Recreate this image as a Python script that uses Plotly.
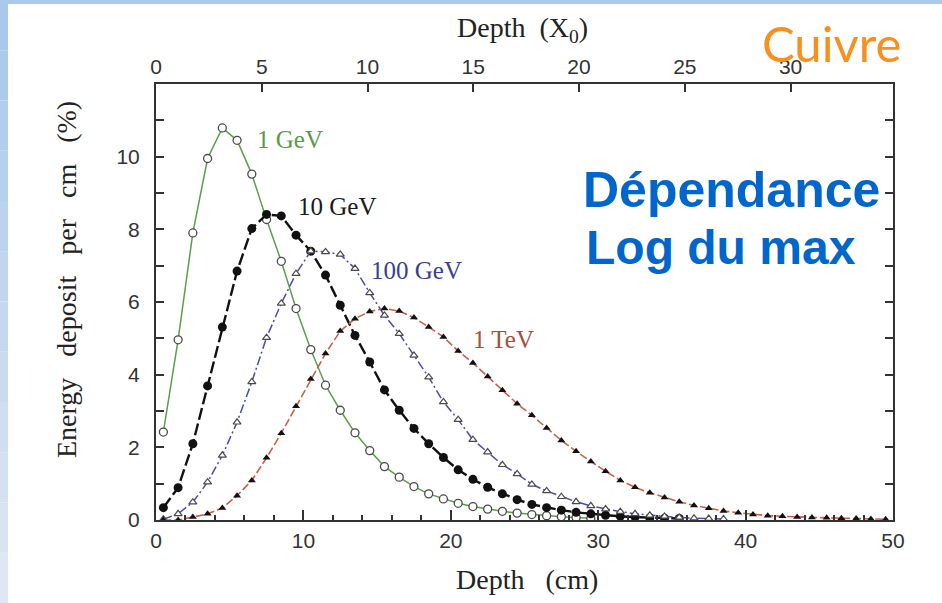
import plotly.graph_objects as go

# ---------------- data ----------------
DEPTH_CM = [0.5, 1.5, 2.5, 3.5, 4.5, 5.5, 6.5, 7.5, 8.5, 9.5,
            10.5, 11.5, 12.5, 13.5, 14.5, 15.5, 16.5, 17.5, 18.5, 19.5,
            20.5, 21.5, 22.5, 23.5, 24.5, 25.5, 26.5, 27.5, 28.5, 29.5,
            30.5, 31.5, 32.5, 33.5, 34.5, 35.5, 36.5, 37.5, 38.5, 39.5,
            40.5, 41.5, 42.5, 43.5, 44.5, 45.5, 46.5, 47.5, 48.5, 49.5]

E_1GEV = [2.42, 4.96, 7.90, 9.95, 10.79, 10.45, 9.52, 8.27, 7.12, 5.82,
          4.69, 3.71, 3.02, 2.40, 1.91, 1.47, 1.18, 0.92, 0.72, 0.58,
          0.46, 0.37, 0.30, 0.24, 0.19, 0.15, 0.12, 0.09, 0.07, 0.05]

E_10GEV = [0.34, 0.89, 2.10, 3.69, 5.31, 6.85, 8.02, 8.41, 8.37, 7.84,
           7.40, 6.74, 5.91, 5.08, 4.35, 3.58, 3.02, 2.52, 2.10, 1.72,
           1.38, 1.12, 0.90, 0.72, 0.56, 0.43, 0.34, 0.27, 0.21, 0.17,
           0.13, 0.10, 0.08, 0.06, 0.05, 0.04]

E_100GEV = [0.02, 0.17, 0.49, 1.04, 1.78, 2.69, 3.80, 5.02, 5.96, 6.78,
            7.40, 7.38, 7.31, 6.92, 6.25, 5.63, 5.13, 4.53, 3.93, 3.25,
            2.76, 2.21, 1.87, 1.52, 1.27, 0.98, 0.80, 0.64, 0.50, 0.39,
            0.30, 0.23, 0.17, 0.13, 0.10, 0.07, 0.05, 0.04, 0.03]

E_1TEV = [0.0, 0.0, 0.08, 0.17, 0.33, 0.67, 1.09, 1.71, 2.39, 3.13,
          3.88, 4.58, 5.20, 5.54, 5.74, 5.82, 5.75, 5.57, 5.31, 5.04,
          4.65, 4.32, 3.95, 3.57, 3.20, 2.88, 2.53, 2.19, 1.89, 1.61,
          1.34, 1.09, 0.90, 0.75, 0.62, 0.50, 0.40, 0.32, 0.25, 0.20,
          0.15, 0.12, 0.10, 0.08, 0.07, 0.06, 0.05, 0.04, 0.03, 0.02]

CURVE_LABELS = ["1 GeV", "10 GeV", "100 GeV", "1 TeV"]
X_CM_RANGE = [0, 50]
X_CM_TICKS = [0, 10, 20, 30, 40, 50]
X0_CM = 1.435            # radiation length of copper in cm
X0_TICKS = [0, 5, 10, 15, 20, 25, 30]
Y_RANGE = [0, 12]
Y_TICKS = [0, 2, 4, 6, 8, 10]
Y_MINOR_TICKS = [1, 3, 5, 7, 9, 11]

# ---------------- figure ----------------
W, H = 942, 603
ML, MR, MT, MB = 156, 49, 84, 83
PW, PH = W - ML - MR, H - MT - MB


def px(xp):
    return (xp - ML) / PW


def py(yp):
    return (H - MB - yp) / PH


fig = go.Figure()

fig.add_trace(go.Scatter(
    x=DEPTH_CM[:len(E_1GEV)], y=E_1GEV, mode="lines+markers", name=CURVE_LABELS[0],
    line=dict(color="#5c9e4c", width=1.5),
    marker=dict(symbol="circle", size=8, color="white",
                line=dict(color="#4a4a4a", width=1.3)),
))
fig.add_trace(go.Scatter(
    x=DEPTH_CM[:len(E_10GEV)], y=E_10GEV, mode="lines+markers", name=CURVE_LABELS[1],
    line=dict(color="#111111", width=2.4, dash="12px,4px"),
    marker=dict(symbol="circle", size=9, color="#111111"),
))
fig.add_trace(go.Scatter(
    x=DEPTH_CM[:len(E_100GEV)], y=E_100GEV, mode="lines+markers", name=CURVE_LABELS[2],
    line=dict(color="#4c4cae", width=1.5, dash="9px,3px,2px,3px"),
    marker=dict(symbol="triangle-up", size=7, color="white",
                line=dict(color="#4a4a4a", width=1.2)),
))
fig.add_trace(go.Scatter(
    x=DEPTH_CM[:len(E_1TEV)], y=E_1TEV, mode="lines+markers", name=CURVE_LABELS[3],
    line=dict(color="#c8604a", width=1.6, dash="8px,3px"),
    marker=dict(symbol="triangle-up", size=7, color="#111111"),
))
# empty trace so the top (radiation-length) axis is drawn
fig.add_trace(go.Scatter(
    x=[X_CM_RANGE[0] / X0_CM, X_CM_RANGE[1] / X0_CM], y=[None, None],
    xaxis="x2", yaxis="y", mode="markers", showlegend=False, hoverinfo="skip",
    marker=dict(opacity=0),
))

# blue slide border (left / top strips)
shapes = []
n = 12
for i in range(n):
    t = i / (n - 1)
    r = int(169 + (222 - 169) * t)
    g = int(200 + (231 - 200) * t)
    b = int(236 + (242 - 236) * t)
    y0 = H * i / n
    y1 = H * (i + 1) / n
    shapes.append(dict(type="rect", xref="paper", yref="paper",
                       x0=px(0), x1=px(8), y0=py(y1), y1=py(y0),
                       fillcolor=f"rgb({r},{g},{b})", line=dict(width=0),
                       layer="below"))
shapes.append(dict(type="rect", xref="paper", yref="paper",
                   x0=px(0), x1=px(W), y0=py(4), y1=py(0),
                   fillcolor="rgb(172,201,236)", line=dict(width=0), layer="below"))

serif = "Liberation Serif, Times New Roman, serif"
sans = "Liberation Sans, Arial, sans-serif"
sp3 = "\u00a0\u00a0\u00a0"

annotations = [
    dict(text="Depth\u00a0\u00a0(X<sub>0</sub>)", xref="paper", yref="paper",
         x=px(522), y=py(30), showarrow=False, xanchor="center", yanchor="middle",
         font=dict(family=serif, size=28, color="#222222")),
    dict(text="Depth" + sp3 + "(cm)", xref="paper", yref="paper",
         x=px(527), y=py(579), showarrow=False, xanchor="center", yanchor="middle",
         font=dict(family=serif, size=28, color="#222222")),
    dict(text=sp3.join(["Energy", "deposit", "per", "cm", "(%)"]),
         xref="paper", yref="paper", x=px(66), y=py(280), showarrow=False,
         textangle=-90, xanchor="center", yanchor="middle",
         font=dict(family=serif, size=28, color="#222222")),
    dict(text=CURVE_LABELS[0], xref="x", yref="y", x=(255 - ML) / 14.74, y=(520 - 140) / 36.33,
         showarrow=False, xanchor="left", yanchor="middle",
         font=dict(family=serif, size=25, color="#5a9a4c")),
    dict(text=CURVE_LABELS[1], xref="x", yref="y", x=(296 - ML) / 14.74, y=(520 - 207) / 36.33,
         showarrow=False, xanchor="left", yanchor="middle",
         font=dict(family=serif, size=25, color="#1a1a1a")),
    dict(text=CURVE_LABELS[2], xref="x", yref="y", x=(369 - ML) / 14.74, y=(520 - 271) / 36.33,
         showarrow=False, xanchor="left", yanchor="middle",
         font=dict(family=serif, size=25, color="#3e3e8e")),
    dict(text=CURVE_LABELS[3], xref="x", yref="y", x=(471 - ML) / 14.74, y=(520 - 340) / 36.33,
         showarrow=False, xanchor="left", yanchor="middle",
         font=dict(family=serif, size=25, color="#a4503e")),
    dict(text="Cuivre", xref="paper", yref="paper", x=px(831), y=py(43),
         showarrow=False, xanchor="center", yanchor="middle",
         font=dict(family="Lato, Open Sans, sans-serif", size=49, color="#F7901E")),
    dict(text="<b>Dépendance</b>", xref="paper", yref="paper", x=px(581), y=py(190),
         showarrow=False, xanchor="left", yanchor="middle",
         font=dict(family=sans, size=50, color="#0066CC")),
    dict(text="<b>Log du max</b>", xref="paper", yref="paper", x=px(584), y=py(248),
         showarrow=False, xanchor="left", yanchor="middle",
         font=dict(family=sans, size=48, color="#0066CC")),
]

tick_font = dict(family=sans, size=21, color="#333333")

fig.update_layout(
    width=W, height=H, autosize=False,
    margin=dict(l=ML, r=MR, t=MT, b=MB, pad=0),
    paper_bgcolor="white", plot_bgcolor="white",
    showlegend=False,
    shapes=shapes, annotations=annotations,
    xaxis=dict(range=X_CM_RANGE, tickmode="array", tickvals=X_CM_TICKS,
               ticks="inside", ticklen=10, tickwidth=1.5, tickcolor="#333333",
               minor=dict(dtick=2, tick0=0, ticks="inside", ticklen=5, tickcolor="#333333"),
               showline=True, linecolor="#333333", linewidth=2, mirror=False,
               showgrid=False, zeroline=False, ticklabelstandoff=1,
               tickfont=tick_font),
    xaxis2=dict(range=[X_CM_RANGE[0] / X0_CM, X_CM_RANGE[1] / X0_CM], overlaying="x",
                side="top", anchor="y", tickmode="array", tickvals=X0_TICKS,
                ticks="inside", ticklen=8, tickwidth=1.5, tickcolor="#333333",
                showline=True, linecolor="#333333", linewidth=2,
                showgrid=False, zeroline=False, ticklabelstandoff=0,
                tickfont=tick_font),
    yaxis=dict(range=Y_RANGE, tickmode="array", tickvals=Y_TICKS,
               ticks="inside", ticklen=8, tickwidth=1.5, tickcolor="#333333",
               minor=dict(tickmode="array", tickvals=Y_MINOR_TICKS, ticks="inside",
                          ticklen=8, tickcolor="#333333"),
               showline=True, linecolor="#333333", linewidth=2, mirror="ticks",
               showgrid=False, zeroline=False, ticklabelstandoff=10,
               tickfont=tick_font),
)

fig.write_html("out.html")
